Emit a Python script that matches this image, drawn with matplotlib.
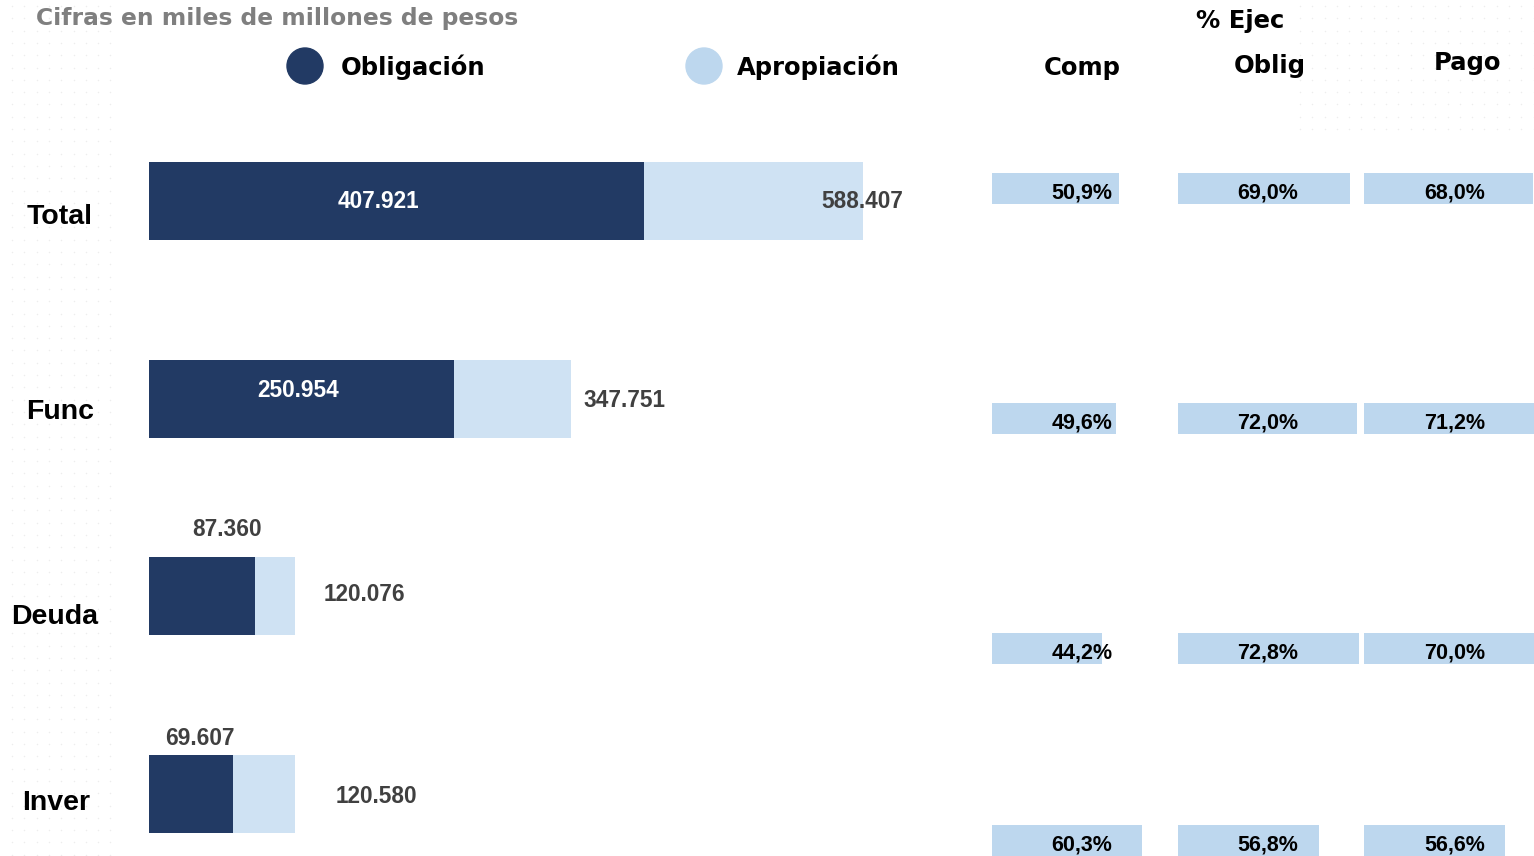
import matplotlib
matplotlib.use('Agg')
import matplotlib.pyplot as plt
import numpy as np

# data (miles de millones de pesos)
categorias = ['Total', 'Func', 'Deuda', 'Inver']
obligacion = [407.921, 250.954, 87.360, 69.607]
apropiacion = [588.407, 347.751, 120.076, 120.580]
comp = [50.9, 49.6, 44.2, 60.3]
oblig = [69.0, 72.0, 72.8, 56.8]
pago = [68.0, 71.2, 70.0, 56.6]

DARK = '#223A64'
LIGHT = '#CFE2F3'
PCT = '#BDD7EE'
NUM = 'Liberation Sans'
HEAD = 'DejaVu Sans'

def fmt(v):
    ent, dec = f'{v:.3f}'.split('.')
    return ent + '.' + dec

def pct(v):
    return f'{v:.1f}%'.replace('.', ',')

W, H = 1534, 856
fig = plt.figure(figsize=(W / 100, H / 100), dpi=100)

# faint dotted background
bg = fig.add_axes([0, 0, 1, 1])
bg.set_xlim(0, W)
bg.set_ylim(H, 0)
bg.axis('off')
gx, gy = np.meshgrid(np.arange(12, 112, 12.3), np.arange(6, H, 12.3))
bg.scatter(gx.ravel(), gy.ravel(), s=1.2, color='#EDEDED', lw=0)
gx, gy = np.meshgrid(np.arange(1300, W, 12.3), np.arange(6, 140, 12.3))
bg.scatter(gx.ravel(), gy.ravel(), s=1.2, color='#EDEDED', lw=0)

# main bar axes: 149px .. 980px, full height
px_per_unit = 714 / 588.407
ax = fig.add_axes([149 / W, 0, (980 - 149) / W, 1])
ax.set_xlim(0, (980 - 149) / px_per_unit)
row_px = 197.7
ax.set_ylim((H - 201) / row_px, -201 / row_px)
ax.axis('off')

y = range(len(categorias))
ax.barh(y, apropiacion, height=0.395, color=LIGHT)
ax.barh(y, obligacion, height=0.395, color=DARK)

# label placement (pixel offsets)
ob_inside = [True, True, False, False]
ob_dx = [-18, -3, 78 - 106 / 2, 51 - 84.5 / 2]
ob_dy = [0, 8, 67, 56]
ap_dx = [-1, 53, 70, 81]
ap_dy = [0, -2, 2, -2]

def px2pt(p):
    return p * 72 / 100

for i, cat in enumerate(categorias):
    o, a = obligacion[i], apropiacion[i]
    ax.annotate(fmt(o), (o / 2, i), xytext=(px2pt(ob_dx[i]), px2pt(ob_dy[i])),
                textcoords='offset points', ha='center', va='center',
                fontsize=16.3, fontweight='bold', family=NUM,
                color='white' if ob_inside[i] else '#404040')
    ax.annotate(fmt(a), (a, i), xytext=(px2pt(ap_dx[i]), px2pt(ap_dy[i])),
                textcoords='offset points', ha='center', va='center',
                fontsize=16.3, fontweight='bold', family=NUM, color='#404040')

# category labels
cat_pos = [(60, 217), (60, 412), (55, 617), (56, 803)]
for cat, (cx, cy) in zip(categorias, cat_pos):
    fig.text(cx / W, 1 - cy / H, cat, ha='center', va='center', fontsize=20.5,
             fontweight='bold', family=NUM, color='black')

# percent columns
pct_px = 249.0
pct_rows = [188.5, 418.5, 648.5, 840.5]
cols = [('Comp', comp, 992, 1178, 1082), ('Oblig', oblig, 1178, 1364, 1268),
        ('Pago', pago, 1364, W, 1455)]
for name, vals, x0, x1, xc in cols:
    pax = fig.add_axes([x0 / W, 0, (x1 - x0) / W, 1])
    pax.set_xlim(0, (x1 - x0) / pct_px * 100)
    pax.set_ylim(H, 0)
    pax.axis('off')
    pax.barh(pct_rows, vals, height=31, color=PCT)
    lx = (xc - x0) / pct_px * 100
    for r, v in zip(pct_rows, vals):
        pax.text(lx, r + 4, pct(v), ha='center', va='center', fontsize=15.5,
                 fontweight='bold', family=NUM, color='black')

# headers
fig.text(1082 / W, 1 - 68 / H, 'Comp', ha='center', va='center', fontsize=17.5,
         fontweight='bold', family=HEAD)
fig.text(1270 / W, 1 - 66 / H, 'Oblig', ha='center', va='center', fontsize=17.5,
         fontweight='bold', family=HEAD)
fig.text(1468 / W, 1 - 63 / H, 'Pago', ha='center', va='center', fontsize=17.5,
         fontweight='bold', family=HEAD)
fig.text(1240 / W, 1 - 21 / H, '% Ejec', ha='center', va='center', fontsize=17.5,
         fontweight='bold', family=HEAD)

fig.text(36 / W, 1 - 19 / H, 'Cifras en miles de millones de pesos', ha='left',
         va='center', fontsize=16.8, fontweight='bold', family=HEAD, color='#7F7F7F')

# legend
fig.patches.append(matplotlib.patches.Ellipse((305 / W, 1 - 66 / H), 36 / W, 36 / H,
                   transform=fig.transFigure, color=DARK))
fig.patches.append(matplotlib.patches.Ellipse((704 / W, 1 - 66 / H), 36 / W, 36 / H,
                   transform=fig.transFigure, color=PCT))
fig.text(341 / W, 1 - 67 / H, 'Obligación', ha='left', va='center', fontsize=17.5,
         fontweight='bold', family=HEAD)
fig.text(737 / W, 1 - 67 / H, 'Apropiación', ha='left', va='center', fontsize=17.5,
         fontweight='bold', family=HEAD)

fig.savefig('out.png', dpi=100)
